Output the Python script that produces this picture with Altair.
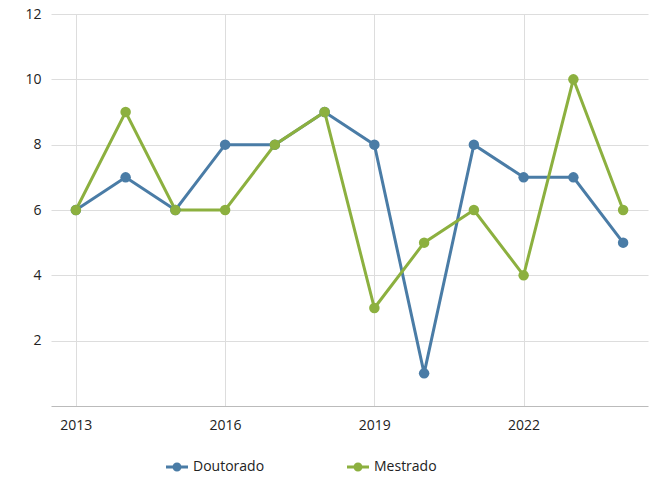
import altair as alt
import pandas as pd

years = list(range(2013, 2025))
doutorado = [6, 7, 6, 8, 8, 9, 8, 1, 8, 7, 7, 5]
mestrado = [6, 9, 6, 6, 8, 9, 3, 5, 6, 4, 10, 6]
series = ["Doutorado", "Mestrado"]
colors = ["#4a7ca6", "#8cb03f"]
x_ticks = [2013, 2016, 2019, 2022]
y_ticks = [2, 4, 6, 8, 10, 12]

rows = []
for y, d, m in zip(years, doutorado, mestrado):
    rows.append({"ano": y, "serie": "Doutorado", "valor": d})
    rows.append({"ano": y, "serie": "Mestrado", "valor": m})
df = pd.DataFrame(rows)

sym = ("M-1,-0.14L-0.35,-0.14L-0.35,0.14L-1,0.14Z "
       "M0.35,-0.14L1,-0.14L1,0.14L0.35,0.14Z "
       "M-0.41,0A0.41,0.41,0,1,1,0.41,0A0.41,0.41,0,1,1,-0.41,0Z")

color = alt.Color(
    "serie:N",
    scale=alt.Scale(domain=series, range=colors),
    legend=alt.Legend(
        title=None, orient="none", direction="horizontal",
        legendX=115, legendY=442, symbolType=sym, symbolSize=484,
        symbolStrokeWidth=0, labelFontSize=14, labelColor="#222",
        labelFont="Open Sans", columnPadding=82, labelOffset=5,
    ),
)

x = alt.X("ano:Q", scale=alt.Scale(domain=[2012.5, 2024.5], nice=False, zero=False),
          axis=alt.Axis(values=x_ticks, format="d", title=None, ticks=False,
                        labelPadding=12, domainColor="#bbbbbb", gridColor="#dddddd",
                        labelFontSize=14, labelColor="#222", labelFont="Open Sans"))
y = alt.Y("valor:Q", scale=alt.Scale(domain=[0, 12], nice=False),
          axis=alt.Axis(values=y_ticks, title=None, ticks=False, domain=False,
                        labelPadding=10, gridColor="#dddddd",
                        labelFontSize=14, labelColor="#222", labelFont="Open Sans"))

base = alt.Chart(df)
lines = base.mark_line(strokeWidth=3).encode(x=x, y=y, color=color, order="ano:Q")
points = base.mark_point(filled=True, size=110, opacity=1).encode(x=x, y=y, color=color)

chart = alt.layer(lines, points).properties(
    width=597, height=392,
    autosize=alt.AutoSizeParams(type="none"),
    padding={"left": 43, "top": 6, "right": 8, "bottom": 86},
).configure_view(stroke=None)

chart.save("out.html", embed_options={"renderer": "svg", "actions": False})
